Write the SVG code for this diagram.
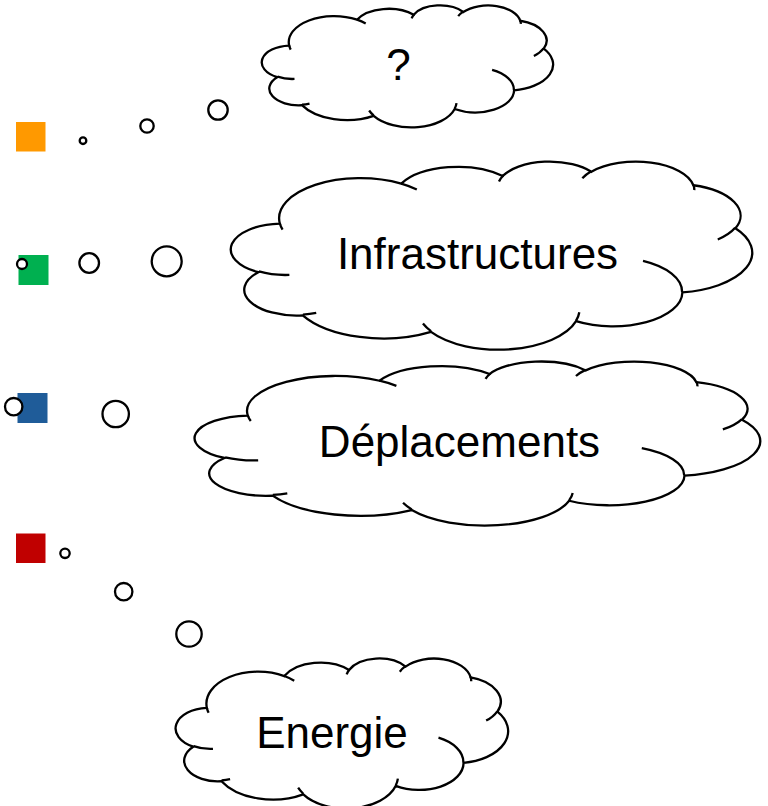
<svg xmlns="http://www.w3.org/2000/svg" xmlns:xlink="http://www.w3.org/1999/xlink" width="768" height="806" viewBox="0 0 768 806">
<style>
.lbl{font-family:"Liberation Sans",Arial,sans-serif;font-size:44px;fill:#000;text-anchor:middle}
.bub{fill:#fff;stroke:#000;stroke-width:2.3}
</style>
<defs>
<path id="cloud" fill="#fff" stroke="#000" stroke-width="2.3" vector-effect="non-scaling-stroke" d="M3900 14370 A6753 9190 0 0 1 14005 5202 A5333 7267 0 0 1 22455 3431 A4365 5945 0 0 1 29832 2480 A4857 6595 0 0 1 38318 5575 A5333 7273 0 0 1 41818 15459 A6775 9220 0 0 1 37404 30202 A5785 7867 0 0 1 28556 36813 A6752 9215 0 0 1 16480 39264 A7720 10543 0 0 1 5804 35470 A4360 5918 0 0 1 2113 25548 A4345 5945 0 0 1 3900 14370 Z"/>
<path id="cloudInner" fill="none" stroke="#000" stroke-width="2.3" vector-effect="non-scaling-stroke" d="M4693 26177 A4345 5945 0 0 1 2160 25380 M6928 34899 A4360 5918 0 0 1 5820 35280 M16478 39090 A6752 9215 0 0 1 15810 37350 M28827 34751 A6752 9215 0 0 1 28560 36660 M34129 22954 A5785 7867 0 0 1 37380 30090 M41798 15354 A5333 7273 0 0 1 40350 18030 M38324 5426 A4857 6595 0 0 1 38400 6690 M29078 3952 A4857 6595 0 0 1 29820 2340 M22141 4720 A4365 5945 0 0 1 22500 3330 M14000 5192 A6753 9190 0 0 1 15300 6541 M4127 15789 A6753 9190 0 0 1 3900 14370"/>
</defs>

<g id="cloud-question">
<g transform="translate(263 5) scale(0.0067130 0.0028241)"><use xlink:href="#cloud" href="#cloud"/><use xlink:href="#cloudInner" href="#cloudInner"/></g>
<text class="lbl" x="398.5" y="80">?</text>
</g>

<g id="cloud-infrastructures">
<g transform="translate(233 161) scale(0.0120139 0.0043519)"><use xlink:href="#cloud" href="#cloud"/><use xlink:href="#cloudInner" href="#cloudInner"/></g>
<text class="lbl" x="477.5" y="269">Infrastructures</text>
</g>

<g id="cloud-deplacements">
<g transform="translate(197 361) scale(0.0130324 0.0037963)"><use xlink:href="#cloud" href="#cloud"/><use xlink:href="#cloudInner" href="#cloudInner"/></g>
<text class="lbl" x="459.5" y="457">Déplacements</text>
</g>

<g id="cloud-energie">
<g transform="translate(177 658) scale(0.0076620 0.0034722)"><use xlink:href="#cloud" href="#cloud"/><use xlink:href="#cloudInner" href="#cloudInner"/></g>
<text class="lbl" x="332" y="748">Energie</text>
</g>

<g id="square-orange"><rect x="16" y="122" width="29.5" height="29.5" fill="#FF9900"/></g>
<g id="square-green"><rect x="18.5" y="255" width="30" height="30" fill="#00B050"/></g>
<g id="square-blue"><rect x="17.5" y="393" width="30" height="30" fill="#1F5C99"/></g>
<g id="square-red"><rect x="16" y="533.5" width="29.5" height="29.5" fill="#C00000"/></g>

<g id="bubbles">
<circle class="bub" cx="83" cy="140.7" r="3.3"/>
<circle class="bub" cx="147" cy="126" r="6.7"/>
<circle class="bub" cx="218" cy="110" r="9.7"/>
<circle class="bub" cx="22" cy="264" r="5"/>
<circle class="bub" cx="89.2" cy="263" r="9.8"/>
<circle class="bub" cx="166.7" cy="261.3" r="15"/>
<circle class="bub" cx="13.7" cy="406.7" r="8.7"/>
<circle class="bub" cx="115.7" cy="414" r="13.2"/>
<circle class="bub" cx="65" cy="553.3" r="4.7"/>
<circle class="bub" cx="123.7" cy="591.7" r="8.7"/>
<circle class="bub" cx="189" cy="634" r="12.7"/>
</g>
</svg>
